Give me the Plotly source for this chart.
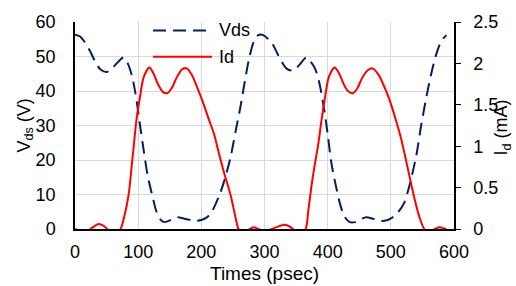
import plotly.graph_objects as go

# ---- data ----
t_vds = [0, 8, 16, 24, 32, 40, 50, 60, 70, 77, 84, 90, 96, 103, 109, 115, 122, 129, 135, 141,
         150, 161, 175, 190, 200, 208, 215, 222, 230, 238, 246, 255, 262, 269, 276, 283, 290,
         298, 306, 313, 320, 327, 335, 345, 355, 366, 373, 380, 387, 395, 400, 406, 413, 420,
         427, 435, 443, 452, 461, 473, 485, 495, 503, 512, 521, 530, 540, 548, 556, 564, 572,
         580, 588]
vds = [56.3, 55.8, 54.0, 51.5, 48.5, 46.3, 45.5, 46.8, 48.8, 49.7, 47.8, 44.5, 39.0, 30.0, 22.5,
       15.5, 10.0, 5.0, 2.8, 2.0, 2.5, 3.4, 2.9, 2.4, 2.6, 3.3, 4.5, 7.0, 10.5, 15.0, 20.6, 29.0,
       35.5, 43.0, 49.7, 54.3, 56.2, 56.2, 55.0, 53.5, 51.0, 48.5, 46.5, 45.9, 47.5, 49.7, 48.5,
       46.5, 42.2, 34.0, 27.5, 19.0, 12.5, 7.0, 3.5, 2.0, 2.0, 2.8, 3.4, 2.9, 2.3, 2.6, 3.4, 5.0,
       7.5, 13.0, 21.0, 30.0, 38.0, 45.0, 50.7, 54.5, 56.2]

t_id = [0, 8, 18, 28, 37, 45, 51, 58, 65, 72, 78, 85, 90, 93, 97, 103, 109, 118, 124, 132, 140,
        146, 153, 161, 170, 177, 185, 193, 203, 212, 220, 227, 236, 246, 253, 259, 265, 272, 283,
        290, 303, 318, 332, 340, 345, 355, 365, 369, 374, 379, 385, 390, 396, 402, 411, 418, 426,
        433, 440, 447, 455, 464, 471, 480, 489, 498, 507, 516, 522, 530, 537, 545, 553, 561, 570,
        577, 583, 588]
id_ma = [0.0, -0.02, -0.03, 0.02, 0.06, 0.04, 0.0, -0.05, -0.05, 0.0, 0.15, 0.42, 0.78, 1.0, 1.3,
         1.6, 1.84, 1.95, 1.88, 1.74, 1.65, 1.64, 1.7, 1.83, 1.93, 1.94, 1.86, 1.72, 1.52, 1.32,
         1.15, 0.94, 0.68, 0.42, 0.18, 0.0, -0.03, -0.02, 0.02, 0.0, -0.02, 0.02, 0.05, 0.03, 0.0,
         -0.05, 0.0, 0.2, 0.5, 0.75, 1.02, 1.3, 1.6, 1.84, 1.95, 1.88, 1.74, 1.66, 1.64, 1.7, 1.83,
         1.92, 1.94, 1.87, 1.73, 1.56, 1.34, 1.1, 0.9, 0.62, 0.38, 0.15, 0.0, -0.03, 0.0, 0.02,
         0.01, 0.0]

x_ticks = [0, 100, 200, 300, 400, 500, 600]
y_ticks = [0, 10, 20, 30, 40, 50, 60]
y2_ticks = [0, 0.5, 1, 1.5, 2, 2.5]
y2_labels = ["0", "0.5", "1", "1.5", "2", "2.5"]

NAVY = "#002060"
RED = "#FF0000"
GRID = "#D9D9D9"
FONT = "Arial, Liberation Sans, sans-serif"

fig = go.Figure()
fig.add_trace(go.Scatter(x=t_vds, y=vds, mode="lines", name="Vds",
                         line=dict(color=NAVY, width=2, dash="13px,7px", shape="spline", smoothing=0.8),
                         showlegend=False))
fig.add_trace(go.Scatter(x=t_id, y=id_ma, mode="lines", name="Id", yaxis="y2",
                         line=dict(color=RED, width=2, shape="spline", smoothing=0.8),
                         showlegend=False))

W, H = 516, 286
L, R, T, B = 75, 62, 17, 57
pw, ph = W - L - R, H - T - B

def px(x):
    return (x - L) / pw

def py(y):
    return (H - B - y) / ph

# custom legend
fig.add_shape(type="line", xref="paper", yref="paper", x0=px(153), x1=px(212), y0=py(25.7), y1=py(25.7),
              line=dict(color=NAVY, width=2, dash="13px,7px"))
fig.add_shape(type="line", xref="paper", yref="paper", x0=px(153), x1=px(212), y0=py(52.7), y1=py(52.7),
              line=dict(color=RED, width=2))
fig.add_annotation(xref="paper", yref="paper", x=px(217), y=py(25.7), text="Vds", showarrow=False,
                   xanchor="left", yanchor="middle", font=dict(family=FONT, size=18, color="black"))
fig.add_annotation(xref="paper", yref="paper", x=px(217), y=py(52.7), text="Id", showarrow=False,
                   xanchor="left", yanchor="middle", font=dict(family=FONT, size=18, color="black"))

# axis titles
fig.add_annotation(xref="paper", yref="paper", x=px(25), y=0.5, text="V<sub>ds</sub> (V)", showarrow=False,
                   textangle=-90, xanchor="center", yanchor="middle", font=dict(family=FONT, size=18, color="black"))
fig.add_annotation(xref="paper", yref="paper", x=px(503), y=0.49, text="I<sub>d</sub> (mA)", showarrow=False,
                   textangle=-90, xanchor="center", yanchor="middle", font=dict(family=FONT, size=18, color="black"))
fig.add_annotation(xref="paper", yref="paper", x=0.5, y=py(275), text="Times (psec)", showarrow=False,
                   xanchor="center", yanchor="middle", font=dict(family=FONT, size=19, color="black"))

fig.update_layout(
    width=W, height=H,
    margin=dict(l=L, r=R, t=T, b=B),
    paper_bgcolor="white", plot_bgcolor="white",
    font=dict(family=FONT, size=18, color="black"),
    xaxis=dict(range=[0, 600], tickvals=x_ticks, showgrid=True, gridcolor=GRID, gridwidth=1,
               showline=True, linecolor="black", linewidth=1.5, ticks="", zeroline=False,
               layer="below traces", ticklabelstandoff=6),
    yaxis=dict(range=[0, 60], tickvals=y_ticks, showgrid=True, gridcolor=GRID, gridwidth=1,
               showline=True, linecolor="black", linewidth=1.5, ticks="", zeroline=False,
               layer="below traces", ticklabelstandoff=14),
    yaxis2=dict(range=[0, 2.5], tickvals=y2_ticks, ticktext=y2_labels, overlaying="y", side="right",
                showgrid=False, showline=True, linecolor="black", linewidth=1.5, ticks="outside",
                ticklen=5, tickcolor="black", zeroline=False, layer="below traces", ticklabelstandoff=9),
)

fig.write_html("out.html", config={"displayModeBar": False},
               post_script="document.body.style.margin='0';document.body.style.overflow='hidden';")
